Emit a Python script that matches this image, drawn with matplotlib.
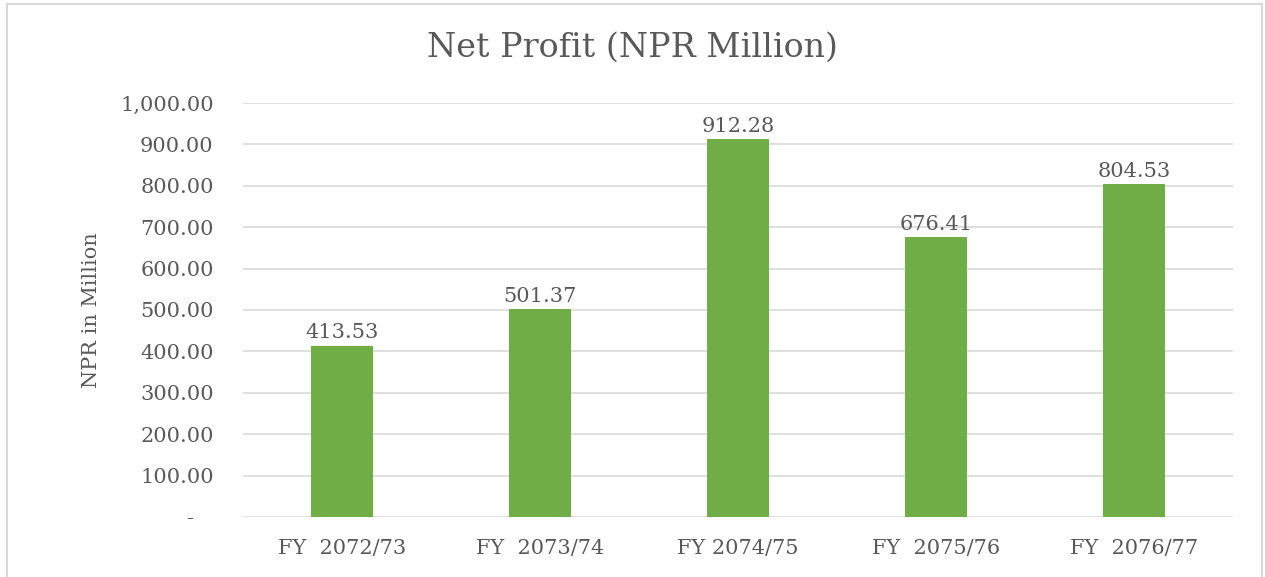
import matplotlib.pyplot as plt
from matplotlib.patches import Rectangle
from matplotlib.ticker import FuncFormatter

years = ["FY  2072/73", "FY  2073/74", "FY 2074/75", "FY  2075/76", "FY  2076/77"]
profit = [413.53, 501.37, 912.28, 676.41, 804.53]
yticks = [0, 100, 200, 300, 400, 500, 600, 700, 800, 900, 1000]

txt = "#595959"
plt.rcParams['font.family'] = ['DejaVu Serif']

fig = plt.figure(figsize=(12.65, 5.77), dpi=100)
ax = fig.add_axes([0.192, 0.104, 0.7827, 0.7175])

x = list(range(len(years)))
bars = ax.bar(x, profit, width=0.31, color="#70AD47", zorder=3)
for b, v in zip(bars, profit):
    ax.text(b.get_x() + b.get_width() / 2, v + 8, "%.2f" % v, ha="center", va="bottom",
            fontsize=15, color=txt)

def fmt(v, pos):
    # accounting style: zero shown as a dash
    if v == 0:
        return "-   "
    return "{:,.2f}".format(v)

ax.set_ylim(0, 1000)
ax.set_xlim(-0.5, len(years) - 0.5)
ax.set_yticks(yticks)
ax.yaxis.set_major_formatter(FuncFormatter(fmt))
ax.set_xticks(x)
ax.set_xticklabels(years)
ax.tick_params(axis="both", length=0, labelsize=15, labelcolor=txt)
ax.tick_params(axis="y", pad=21)
ax.tick_params(axis="x", pad=16)
ax.grid(axis="y", color="#D9D9D9", linewidth=1.2, zorder=0)
for s in ax.spines.values():
    s.set_visible(False)

ax.set_ylabel("NPR in Million", fontsize=15, color=txt, labelpad=14)
fig.text(0.5, 0.918, "Net Profit (NPR Million)", ha="center", va="center",
         fontsize=24, color=txt)

fig.patches.append(Rectangle((7 / 1265, -0.1), 1255 / 1265, 1.1 - 4 / 577,
                             transform=fig.transFigure, fill=False,
                             edgecolor="#D9D9D9", linewidth=1.5))

fig.savefig("out.png", dpi=100)
